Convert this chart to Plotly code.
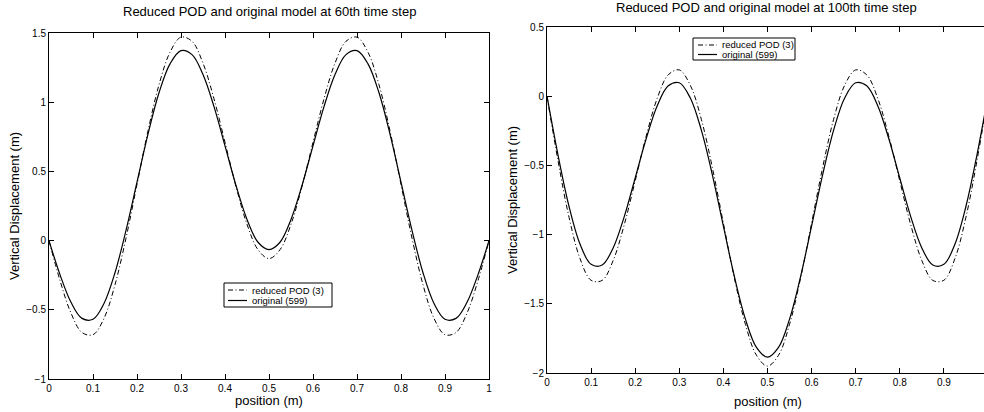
import plotly.graph_objects as go

# ---- data ----
position = [0.000, 0.025, 0.050, 0.075, 0.100, 0.125, 0.150, 0.175, 0.200, 0.225,
            0.250, 0.275, 0.300, 0.325, 0.350, 0.375, 0.400, 0.425, 0.450, 0.475,
            0.500, 0.525, 0.550, 0.575, 0.600, 0.625, 0.650, 0.675, 0.700, 0.725,
            0.750, 0.775, 0.800, 0.825, 0.850, 0.875, 0.900, 0.925, 0.950, 0.975, 1.000]

# 60th time step
step60_reduced = [0.000, -0.288, -0.524, -0.664, -0.680, -0.562, -0.319, 0.018, 0.406, 0.793,
                  1.126, 1.361, 1.470, 1.440, 1.282, 1.024, 0.710, 0.391, 0.118, -0.066,
                  -0.130, -0.066, 0.118, 0.391, 0.710, 1.024, 1.282, 1.440, 1.470, 1.361,
                  1.126, 0.793, 0.406, 0.018, -0.319, -0.562, -0.680, -0.664, -0.524, -0.288, 0.000]
step60_original = [0.000, -0.246, -0.446, -0.562, -0.568, -0.454, -0.232, 0.074, 0.423, 0.770,
                   1.068, 1.277, 1.373, 1.344, 1.200, 0.968, 0.685, 0.398, 0.153, -0.012,
                   -0.065, -0.012, 0.153, 0.398, 0.685, 0.968, 1.200, 1.344, 1.373, 1.277,
                   1.068, 0.770, 0.423, 0.074, -0.232, -0.454, -0.568, -0.562, -0.446, -0.246, 0.000]

# 100th time step
step100_reduced = [0.000, -0.467, -0.875, -1.174, -1.330, -1.331, -1.187, -0.931, -0.612, -0.287,
                   -0.015, 0.155, 0.190, 0.079, -0.167, -0.516, -0.918, -1.315, -1.649, -1.872,
                   -1.950, -1.872, -1.649, -1.315, -0.918, -0.516, -0.167, 0.079, 0.190, 0.155,
                   -0.015, -0.287, -0.612, -0.931, -1.187, -1.331, -1.330, -1.174, -0.875, -0.467, 0.000]
step100_original = [0.000, -0.425, -0.797, -1.070, -1.215, -1.220, -1.096, -0.872, -0.591, -0.306,
                    -0.069, 0.075, 0.097, -0.013, -0.245, -0.568, -0.939, -1.304, -1.611, -1.815,
                    -1.886, -1.815, -1.611, -1.304, -0.939, -0.568, -0.245, -0.013, 0.097, 0.075,
                    -0.069, -0.306, -0.591, -0.872, -1.096, -1.220, -1.215, -1.070, -0.797, -0.425, 0.000]

x_ticks = [0, 0.1, 0.2, 0.3, 0.4, 0.5, 0.6, 0.7, 0.8, 0.9, 1]
y_ticks_60 = [-1, -0.5, 0, 0.5, 1, 1.5]
y_ticks_100 = [-2, -1.5, -1, -0.5, 0, 0.5]

label_reduced = "reduced POD (3)"
label_original = "original (599)"
title_60 = "Reduced POD and original model at 60th time step"
title_100 = "Reduced POD and original model at 100th time step"
x_title = "position (m)"
y_title = "Vertical Displacement (m)"

FONT = "Liberation Sans, Arial, Helvetica, sans-serif"
DASHDOT = "5px,2.5px,1px,2.5px"
W, H = 984, 412

fig = go.Figure()

fig.add_trace(go.Scatter(x=position, y=step60_reduced, mode="lines", name=label_reduced,
                         line=dict(color="black", width=1, dash=DASHDOT, shape="spline"),
                         xaxis="x", yaxis="y", showlegend=False, hoverinfo="skip"))
fig.add_trace(go.Scatter(x=position, y=step60_original, mode="lines", name=label_original,
                         line=dict(color="black", width=1.2, shape="spline"),
                         xaxis="x", yaxis="y", showlegend=False, hoverinfo="skip"))
fig.add_trace(go.Scatter(x=position, y=step100_reduced, mode="lines", name=label_reduced,
                         line=dict(color="black", width=1, dash=DASHDOT, shape="spline"),
                         xaxis="x2", yaxis="y2", showlegend=False, hoverinfo="skip"))
fig.add_trace(go.Scatter(x=position, y=step100_original, mode="lines", name=label_original,
                         line=dict(color="black", width=1.2, shape="spline"),
                         xaxis="x2", yaxis="y2", showlegend=False, hoverinfo="skip"))


def axis_common():
    return dict(showgrid=False, zeroline=False, showline=True, linecolor="black", linewidth=1,
                ticks="inside", ticklen=5, tickcolor="black", tickwidth=1, automargin=False,
                tickfont=dict(family=FONT, size=10, color="black"))


xa = axis_common()
xa.update(domain=[49 / W, 489 / W], range=[0, 1], tickvals=x_ticks, mirror="ticks", anchor="y")
ya = axis_common()
ya.update(domain=[(H - 379) / H, (H - 33) / H], range=[-1, 1.5], tickvals=y_ticks_60,
          mirror="ticks", anchor="x")
xa2 = axis_common()
xa2.update(domain=[547 / W, 1.0], range=[0, 0.991], tickvals=x_ticks[:-1], mirror="ticks", anchor="y2")
ya2 = axis_common()
ya2.update(domain=[(H - 373) / H, (H - 27) / H], range=[-2, 0.5], tickvals=y_ticks_100,
           mirror=False, anchor="x2")


def px(x):
    return x / W


def py(y):
    return (H - y) / H


annotations = []
shapes = []


def text(t, x, y, size, xanchor="center", angle=0):
    annotations.append(dict(text=t, xref="paper", yref="paper", x=px(x), y=py(y),
                            xanchor=xanchor, yanchor="middle", showarrow=False, textangle=angle,
                            font=dict(family=FONT, size=size, color="black")))


# titles and axis titles
text(title_60, 269, 12, 13)
text(title_100, 766, 8, 13)
text(x_title, 269, 400, 13)
text(x_title, 768, 401, 13)
text(y_title, 14, 206, 13, angle=-90)
text(y_title, 512, 200, 13, angle=-90)


def legend_box(x0, y0, x1, y1, row1, row2, lx0, lx1, tx):
    shapes.append(dict(type="rect", xref="paper", yref="paper", x0=px(x0), x1=px(x1),
                       y0=py(y0), y1=py(y1), line=dict(color="black", width=1),
                       fillcolor="white", layer="above"))
    shapes.append(dict(type="line", xref="paper", yref="paper", x0=px(lx0), x1=px(lx1),
                       y0=py(row1), y1=py(row1), line=dict(color="black", width=1, dash=DASHDOT),
                       layer="above"))
    shapes.append(dict(type="line", xref="paper", yref="paper", x0=px(lx0), x1=px(lx1),
                       y0=py(row2), y1=py(row2), line=dict(color="black", width=1.2),
                       layer="above"))
    text(label_reduced, tx, row1, 9.5, xanchor="left")
    text(label_original, tx, row2, 9.5, xanchor="left")


legend_box(224, 283, 332, 307, 290, 300.5, 228, 247, 250)
legend_box(693, 38, 795, 60, 45, 54.5, 698, 717, 720)

fig.update_layout(
    width=W, height=H,
    margin=dict(l=0, r=0, t=0, b=0, autoexpand=False),
    paper_bgcolor="white", plot_bgcolor="white",
    font=dict(family=FONT, color="black"),
    xaxis=xa, yaxis=ya, xaxis2=xa2, yaxis2=ya2,
    showlegend=False,
    hovermode=False,
    annotations=annotations,
    shapes=shapes,
)

# remove the default 8px page margin so the figure fills the window exactly
fig.write_html("out.html",
               config={"displayModeBar": False, "staticPlot": True},
               post_script="document.body.style.margin='0';document.body.style.padding='0';"
                           "document.body.style.overflow='hidden';")
